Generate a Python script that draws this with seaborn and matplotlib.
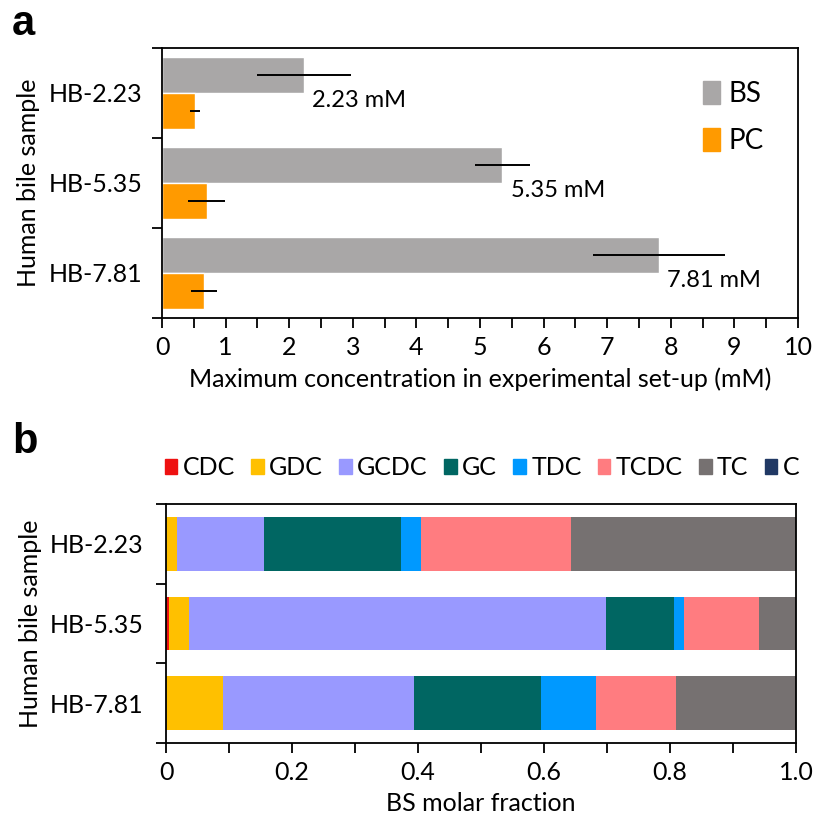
import numpy as np
import pandas as pd
import matplotlib
matplotlib.use("Agg")
import matplotlib.pyplot as plt
from matplotlib.patches import Patch
from matplotlib.ticker import MultipleLocator
import seaborn as sns

# ---------------- data ----------------
samples = ["HB-2.23", "HB-5.35", "HB-7.81"]
bs_conc = [2.23, 5.35, 7.81]
bs_err = [0.74, 0.43, 1.04]
pc_conc = [0.52, 0.70, 0.66]
pc_err = [0.08, 0.29, 0.20]
bs_labels = ["2.23 mM", "5.35 mM", "7.81 mM"]

components = ["CDC", "GDC", "GCDC", "GC", "TDC", "TCDC", "TC", "C"]
CDC = [0.000, 0.005, 0.000]
GDC = [0.018, 0.031, 0.090]
GCDC = [0.138, 0.663, 0.303]
GC = [0.217, 0.108, 0.202]
TDC = [0.032, 0.015, 0.088]
TCDC = [0.238, 0.120, 0.127]
TC = [0.357, 0.058, 0.190]
C = [0.000, 0.000, 0.000]

frac_ticks = [0, 0.2, 0.4, 0.6, 0.8, 1.0]
frac_ticklabels = ["0", "0.2", "0.4", "0.6", "0.8", "1.0"]

comp_colors = ["#EE1111", "#FFC000", "#9999FF", "#006662", "#0099FF",
               "#FF7C80", "#767171", "#203864"]
bs_color = "#A9A7A7"
pc_color = "#FF9A00"

# ---------------- style ----------------
sns.set_theme(style="white")
plt.rcParams["font.family"] = ["Lato", "DejaVu Sans"]
FS = 18
plt.rcParams.update({
    "axes.edgecolor": "black",
    "axes.linewidth": 1.3,
    "xtick.color": "black",
    "ytick.color": "black",
    "text.color": "black",
    "axes.labelcolor": "black",
})

fig = plt.figure(figsize=(8.15, 8.23), dpi=100)

# ---------------- panel a ----------------
ax1 = fig.add_axes([162 / 815, 1 - 318 / 823, 636 / 815, 270 / 823])
dfa = pd.DataFrame({
    "sample": samples * 2,
    "conc": bs_conc + pc_conc,
    "type": ["BS"] * 3 + ["PC"] * 3,
})
sns.barplot(data=dfa, y="sample", x="conc", hue="type", orient="h",
            palette={"BS": bs_color, "PC": pc_color}, width=0.8,
            errorbar=None, legend=False, ax=ax1, saturation=1)

errs = {"BS": bs_err, "PC": pc_err}
for cont, key in zip(ax1.containers, ["BS", "PC"]):
    for patch, e in zip(cont.patches, errs[key]):
        yc = patch.get_y() + patch.get_height() / 2
        xv = patch.get_width()
        ax1.errorbar(xv, yc, xerr=e, fmt="none", ecolor="black",
                     elinewidth=1.4, capsize=0)

for i, (v, lab) in enumerate(zip(bs_conc, bs_labels)):
    ax1.text(v + 0.13, i + 0.08, lab, fontsize=FS - 1, va="center", ha="left")

ax1.set_xlim(0, 10)
ax1.set_ylim(2.5, -0.5)
ax1.xaxis.set_major_locator(MultipleLocator(1))
ax1.xaxis.set_minor_locator(MultipleLocator(0.5))
ax1.set_yticks([0, 1, 2])
ax1.set_yticklabels(samples)
ax1.set_yticks([-0.5, 0.5, 1.5, 2.5], minor=True)
ax1.tick_params(axis="y", which="major", length=0, labelsize=FS, pad=14)
ax1.tick_params(axis="y", which="minor", length=7, width=1.3, direction="out", left=True)
ax1.tick_params(axis="x", which="both", length=7, width=1.3, direction="out",
                bottom=True, labelsize=FS, pad=6)
ax1.set_xlabel("Maximum concentration in experimental set-up (mM)", fontsize=FS, labelpad=6)
ax1.set_ylabel("Human bile sample", fontsize=FS, labelpad=6)
for s in ax1.spines.values():
    s.set_visible(True)
    s.set_color("black")
    s.set_linewidth(1.3)

ax1.legend(handles=[Patch(color=bs_color, label="BS"),
                    Patch(color=pc_color, label="PC")],
           loc="upper right", bbox_to_anchor=(0.985, 0.97), frameon=False,
           fontsize=FS + 2, handlelength=0.6, handleheight=0.9,
           handletextpad=0.3, labelspacing=0.75)

# ---------------- panel b ----------------
ax2 = fig.add_axes([166 / 815, 1 - 743 / 823, 630 / 815, 239 / 823])
fracs = np.array([CDC, GDC, GCDC, GC, TDC, TCDC, TC, C])
cum = np.cumsum(fracs, axis=0)
for k in range(len(components) - 1, -1, -1):
    dfb = pd.DataFrame({"sample": samples, "cum": cum[k]})
    sns.barplot(data=dfb, y="sample", x="cum", orient="h", color=comp_colors[k],
                width=0.675, errorbar=None, ax=ax2, saturation=1, linewidth=0)

ax2.set_xlim(0, 1.0)
ax2.set_ylim(2.5, -0.5)
ax2.set_xticks(frac_ticks)
ax2.set_xticklabels(frac_ticklabels)
ax2.xaxis.set_minor_locator(MultipleLocator(0.1))
ax2.set_yticks([0, 1, 2])
ax2.set_yticklabels(samples)
ax2.set_yticks([-0.5, 0.5, 1.5, 2.5], minor=True)
ax2.tick_params(axis="y", which="major", length=0, labelsize=FS, pad=16)
ax2.tick_params(axis="y", which="minor", length=7, width=1.3, direction="out", left=True)
ax2.tick_params(axis="x", which="both", length=7, width=1.3, direction="out",
                bottom=True, labelsize=FS, pad=6)
ax2.set_xlabel("BS molar fraction", fontsize=FS, labelpad=6)
ax2.set_ylabel("Human bile sample", fontsize=FS, labelpad=6)
for s in ax2.spines.values():
    s.set_visible(True)
    s.set_color("black")
    s.set_linewidth(1.3)

handles_b = [Patch(color=c, label=n) for c, n in zip(comp_colors, components)]
fig.legend(handles=handles_b, loc="center", bbox_to_anchor=(482 / 815, 1 - 468 / 823),
           ncol=8, frameon=False, fontsize=FS, handlelength=0.5, handleheight=0.5,
           handletextpad=0.22, columnspacing=0.65, borderpad=0, borderaxespad=0)

# ---------------- panel labels ----------------
fig.text(12 / 815, 1 - 4 / 823, "a", fontsize=30, fontweight="bold",
         family="Liberation Sans", va="top", ha="left")
fig.text(12 / 815, 1 - 422 / 823, "b", fontsize=30, fontweight="bold",
         family="Liberation Sans", va="top", ha="left")

fig.savefig("out.png", dpi=100)
